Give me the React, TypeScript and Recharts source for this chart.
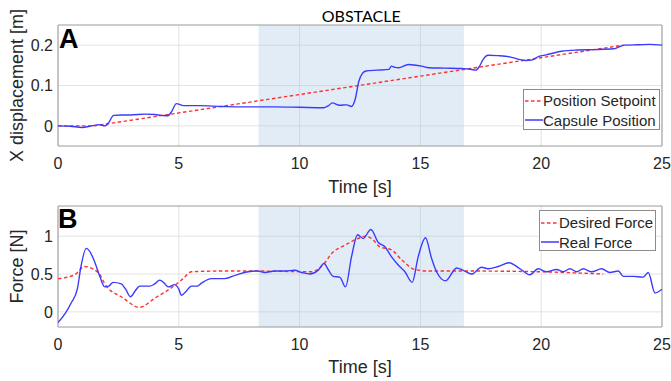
import React from 'react'
import {
  LineChart, Line, XAxis, YAxis, CartesianGrid, ReferenceArea, Legend, Label,
} from 'recharts'

// ── data ─────────────────────────────────────────────
const timeTicks = [0, 5, 10, 15, 20, 25]
const posTicks = [0, 0.1, 0.2]
const forceTicks = [0, 0.5, 1]
const obstacleStart = 8.3
const obstacleEnd = 16.8

const setpointT = [0, 1.5, 23.4]
const setpointX = [0, 0, 0.2]

const capsuleT = [
  0, 0.5, 1.0, 1.4, 1.7, 1.95, 2.1, 2.3, 2.6, 3.0, 3.6, 4.0, 4.3, 4.55, 4.7, 4.9,
  5.2, 5.8, 6.8, 7.5, 8.3, 9.0, 10.0, 11.0, 11.2, 11.35, 11.65, 11.95, 12.15, 12.3,
  12.45, 12.6, 12.75, 13.2, 13.7, 13.8, 13.95, 14.1, 14.5, 15.05, 15.35, 16.0, 16.7,
  17.0, 17.3, 17.45, 17.6, 17.8, 18.2, 18.7, 19.0, 19.35, 19.6, 19.9, 20.2, 20.85,
  21.5, 22.15, 23.0, 23.2, 23.45, 24.0, 24.5, 25,
]
const capsuleX = [
  0, -0.001, -0.004, 0, 0.003, 0, 0.008, 0.026, 0.027, 0.027, 0.029, 0.028, 0.026, 0.025, 0.035, 0.055,
  0.05, 0.05, 0.048, 0.047, 0.047, 0.047, 0.046, 0.045, 0.05, 0.057, 0.051, 0.052, 0.048, 0.066,
  0.11, 0.13, 0.136, 0.138, 0.14, 0.148, 0.145, 0.144, 0.152, 0.148, 0.144, 0.143, 0.142,
  0.141, 0.138, 0.148, 0.165, 0.175, 0.174, 0.171, 0.166, 0.162, 0.163, 0.172, 0.176, 0.185,
  0.188, 0.189, 0.191, 0.195, 0.2, 0.201, 0.202, 0.2,
]

const desiredT = [
  0, 0.69, 1.1, 1.66, 2.0, 2.62, 3.38, 4.0, 4.83, 5.18, 5.52, 6.77, 8.28, 10.49,
  11.07, 11.32, 11.87, 12.42, 12.7, 12.98, 13.32, 13.8, 14.22, 14.77, 15.32, 17, 20, 22.57,
]
const desiredF = [
  0.44, 0.49, 0.6, 0.52, 0.34, 0.2, 0.06, 0.18, 0.35, 0.44, 0.53, 0.54, 0.54, 0.53,
  0.66, 0.77, 0.88, 0.97, 1.0, 0.97, 0.86, 0.82, 0.69, 0.56, 0.54, 0.54, 0.53, 0.5,
]

const realT = [
  0, 0.3, 0.55, 0.8, 0.95, 1.17, 1.35, 1.52, 1.73, 1.93, 2.1, 2.28, 2.62, 2.8, 3.0, 3.2,
  3.38, 3.8, 4.0, 4.21, 4.4, 4.56, 4.83, 5.0, 5.11, 5.3, 5.52, 5.75, 5.94, 6.35, 6.9,
  7.39, 7.87, 8.28, 8.56, 8.97, 9.4, 9.8, 10.1, 10.42, 10.77, 11.01, 11.2, 11.39, 11.66,
  11.9, 12.15, 12.4, 12.63, 12.95, 13.25, 13.53, 13.8, 14.08, 14.36, 14.66, 14.91, 15.21,
  15.46, 15.67, 16.04, 16.5, 16.77, 17.12, 17.53, 17.8, 18.22, 18.67, 19.12, 19.53, 19.88,
  20.22, 20.64, 20.91, 21.19, 21.47, 21.74, 22.08, 22.5, 22.84, 23.19, 23.4, 23.81, 24.22,
  24.43, 24.71, 25,
]
const realF = [
  -0.14, -0.02, 0.12, 0.3, 0.6, 0.84, 0.78, 0.66, 0.47, 0.33, 0.34, 0.39, 0.37, 0.3, 0.2, 0.28,
  0.34, 0.34, 0.37, 0.42, 0.38, 0.33, 0.36, 0.3, 0.22, 0.27, 0.34, 0.34, 0.38, 0.44, 0.44,
  0.49, 0.53, 0.54, 0.52, 0.54, 0.54, 0.55, 0.52, 0.5, 0.55, 0.64, 0.55, 0.47, 0.46,
  0.33, 0.73, 1.02, 0.97, 1.09, 0.92, 0.86, 0.73, 0.62, 0.53, 0.39, 0.73, 0.98,
  0.71, 0.53, 0.41, 0.58, 0.55, 0.5, 0.59, 0.57, 0.6, 0.65, 0.57, 0.49, 0.57,
  0.53, 0.56, 0.53, 0.57, 0.53, 0.57, 0.53, 0.57, 0.52, 0.54, 0.47, 0.47, 0.46,
  0.52, 0.25, 0.3,
]

const toPoints = (t: number[], v: number[]) => t.map((x, i) => ({ t: x, v: v[i] }))

// ── styling ──────────────────────────────────────────
const BLUE = '#3b3bff'
const RED = '#ff3030'
const TEXT = '#262626'
const FONT = 'Liberation Sans, Arial, sans-serif'
const tickStyle = { fontSize: 16, fill: TEXT, fontFamily: FONT }
const labelStyle = { fontSize: 18, fill: TEXT, fontFamily: FONT }

const BoxLegend = ({ items, padTop }: { items: { name: string; color: string; dash?: string }[]; padTop: number }) => (
  <div style={{
    border: '1px solid #8c8c8c', background: '#fff', paddingTop: padTop, boxSizing: 'border-box',
    height: 41, fontFamily: FONT, fontSize: 15, color: TEXT,
  }}>
    {items.map((it) => (
      <div key={it.name} style={{ display: 'flex', alignItems: 'center', height: 19.5, whiteSpace: 'nowrap' }}>
        <svg width={18} height={4} style={{ marginLeft: 1 }}>
          <line x1={0} y1={2} x2={18} y2={2} stroke={it.color} strokeWidth={1.5} strokeDasharray={it.dash} />
        </svg>
        <span>{it.name}</span>
      </div>
    ))}
  </div>
)

export default function App() {
  return (
    <div style={{ position: 'absolute', left: 0, top: 0, width: 671, height: 381, background: '#fff' }}>
      {/* ── A: position ── */}
      <div style={{ position: 'absolute', left: 0, top: 0 }}>
        <LineChart width={671} height={200} margin={{ top: 25, right: 9, bottom: 0, left: 0 }}>
          <CartesianGrid stroke="#e3e3e3" horizontalValues={posTicks} verticalValues={timeTicks} />
          <XAxis dataKey="t" type="number" domain={[0, 25]} ticks={timeTicks} height={54}
            tickSize={0} tickMargin={12} axisLine={false} tick={tickStyle} allowDataOverflow>
            <Label value="Time [s]" position="insideBottom" offset={7} style={labelStyle} />
          </XAxis>
          <YAxis type="number" domain={[-0.05, 0.25]} ticks={posTicks} width={58}
            tickSize={0} tickMargin={5} axisLine={false} tick={tickStyle} allowDataOverflow>
            <Label value="X displacement [m]" angle={-90} position="center" dx={-12} style={labelStyle} />
          </YAxis>
          <ReferenceArea x1={obstacleStart} x2={obstacleEnd} fill="#9ec0e1" fillOpacity={0.3} stroke="none">
            <Label value="OBSTACLE" position="top" offset={3.5}
              style={{ fontSize: 16, fill: '#000', fontFamily: 'Lato, sans-serif' }} />
          </ReferenceArea>
          <Line data={toPoints(setpointT, setpointX)} dataKey="v" name="Position Setpoint" stroke={RED}
            strokeWidth={1.4} strokeDasharray="3.5 2.5" dot={false} isAnimationActive={false} />
          <Line data={toPoints(capsuleT, capsuleX)} dataKey="v" name="Capsule Position" type="monotone"
            stroke={BLUE} strokeWidth={1.4} dot={false} isAnimationActive={false} />
          <ReferenceArea x1={0} x2={25} y1={-0.05} y2={0.25} fill="none" stroke="#9a9a9a" />
          <Legend layout="vertical" align="center" verticalAlign="middle"
            wrapperStyle={{ left: 523, top: 89, width: 137 }}
            content={() => (
              <BoxLegend padTop={1} items={[
                { name: 'Position Setpoint', color: RED, dash: '3.5 2.5' },
                { name: 'Capsule Position', color: BLUE },
              ]} />
            )} />
        </LineChart>
      </div>

      {/* ── B: force ── */}
      <div style={{ position: 'absolute', left: 0, top: 190 }}>
        <LineChart width={671} height={191} margin={{ top: 16, right: 9, bottom: 0, left: 0 }}>
          <CartesianGrid stroke="#e3e3e3" horizontalValues={forceTicks} verticalValues={timeTicks} />
          <XAxis dataKey="t" type="number" domain={[0, 25]} ticks={timeTicks} height={54}
            tickSize={0} tickMargin={12} axisLine={false} tick={tickStyle} allowDataOverflow>
            <Label value="Time [s]" position="insideBottom" offset={8} style={labelStyle} />
          </XAxis>
          <YAxis type="number" domain={[-0.2, 1.4]} ticks={forceTicks} width={58}
            tickSize={0} tickMargin={5} axisLine={false} tick={tickStyle} allowDataOverflow>
            <Label value="Force [N]" angle={-90} position="center" dx={-12} style={labelStyle} />
          </YAxis>
          <ReferenceArea x1={obstacleStart} x2={obstacleEnd} fill="#9ec0e1" fillOpacity={0.3} stroke="none" />
          <Line data={toPoints(desiredT, desiredF)} dataKey="v" name="Desired Force" type="monotone"
            stroke={RED} strokeWidth={1.4} strokeDasharray="3.5 2.5" dot={false} isAnimationActive={false} />
          <Line data={toPoints(realT, realF)} dataKey="v" name="Real Force" type="monotone"
            stroke={BLUE} strokeWidth={1.4} dot={false} isAnimationActive={false} />
          <ReferenceArea x1={0} x2={25} y1={-0.2} y2={1.4} fill="none" stroke="#9a9a9a" />
          <Legend layout="vertical" align="center" verticalAlign="middle"
            wrapperStyle={{ left: 539, top: 20, width: 117 }}
            content={() => (
              <BoxLegend padTop={2} items={[
                { name: 'Desired Force', color: RED, dash: '3.5 2.5' },
                { name: 'Real Force', color: BLUE },
              ]} />
            )} />
        </LineChart>
      </div>

      {/* panel letters */}
      <svg width={671} height={381} style={{ position: 'absolute', left: 0, top: 0, pointerEvents: 'none' }}>
        <text x={59} y={48} fontFamily={FONT} fontWeight="bold" fontSize={27} fill="#000">A</text>
        <text x={58} y={228} fontFamily={FONT} fontWeight="bold" fontSize={27} fill="#000">B</text>
      </svg>
    </div>
  )
}
